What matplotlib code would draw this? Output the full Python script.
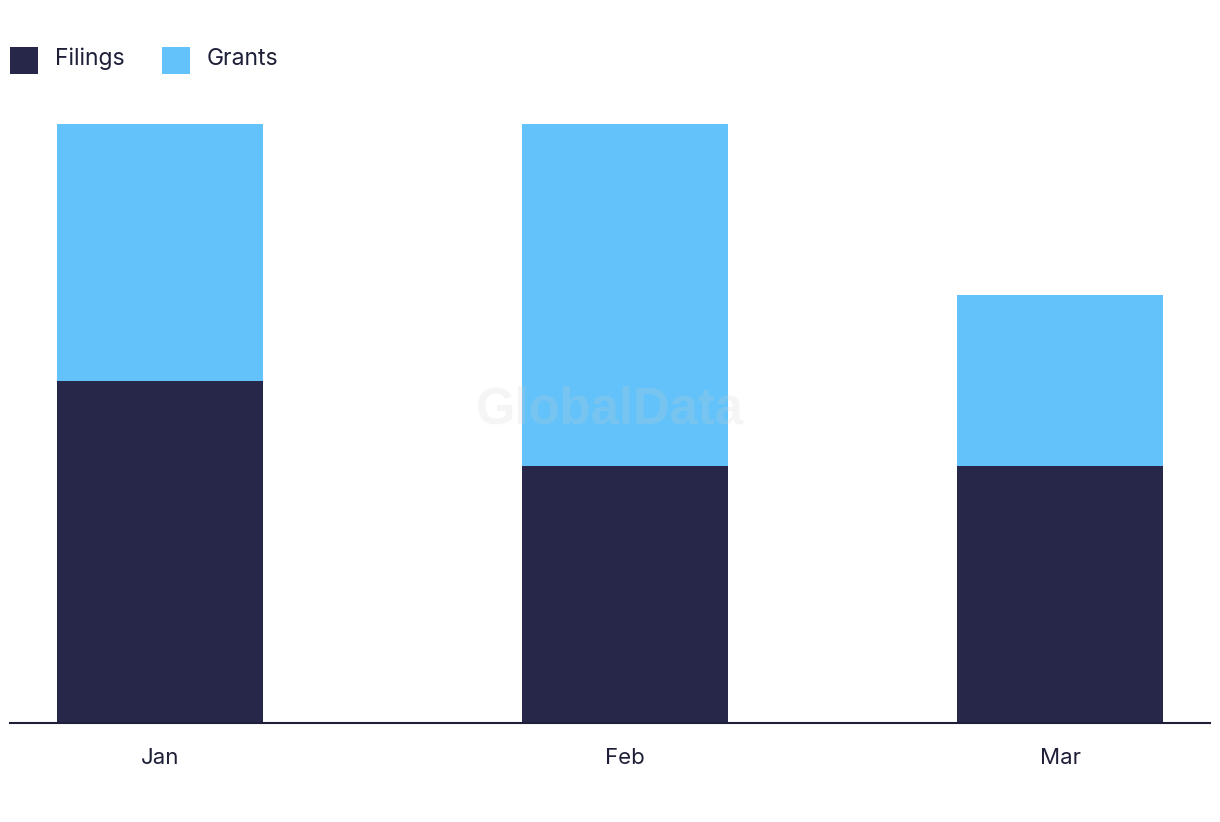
import matplotlib.pyplot as plt
import numpy as np

months = ['Jan', 'Feb', 'Mar']
filings = [4, 3, 3]
grants = [3, 4, 2]

dark = '#272849'
light = '#62c2f9'

plt.rcParams['font.family'] = ['Inter', 'DejaVu Sans']

fig = plt.figure(figsize=(12.2, 8.22), dpi=100)
ax = fig.add_axes([10/1220, 99/822, 1200/1220, 623/822])

# uneven spacing like the original
x_pos = np.array([0, 1.033, 2])
w = 0.458
ax.bar(x_pos, filings, width=w, color=dark, label='Filings')
ax.bar(x_pos, grants, width=w, bottom=filings, color=light, label='Grants')

ax.set_xlim(-0.333, 2.333)
ax.set_ylim(0, 7.28)
ax.set_xticks(x_pos)
ax.set_xticklabels(months, fontsize=16, color='#1e1f38')
ax.tick_params(axis='x', length=0, pad=18)
ax.set_yticks([])
for s in ['top', 'right', 'left']:
    ax.spines[s].set_visible(False)
ax.spines['bottom'].set_color('#1e1f38')
ax.spines['bottom'].set_linewidth(1.5)

ax.text(0.5, 0.503, 'GlobalData', transform=ax.transAxes, ha='center', va='center',
        fontsize=36.5, fontweight='bold', color='#d0d0d0', alpha=0.2,
        family=['Liberation Sans', 'DejaVu Sans'])

fig.legend(loc='upper left', bbox_to_anchor=(10/1220, 1 - 46/822), ncol=2, frameon=False,
           fontsize=16.5, handlelength=1.22, handleheight=1.2, handletextpad=0.75,
           columnspacing=1.62, borderpad=0, borderaxespad=0, labelcolor='#1e1f38')
for h in fig.legends[0].legend_handles:
    h.set_height(19.5)
    h.set_y(-6)

fig.savefig('out.png', dpi=100)
